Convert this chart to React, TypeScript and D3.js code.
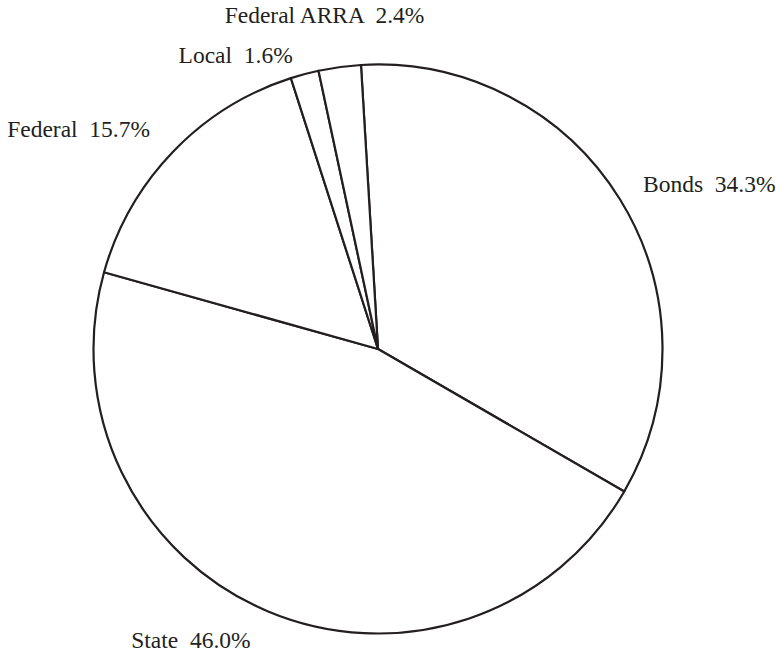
import React, { useEffect, useRef } from 'react';
import * as d3 from 'd3';

// slices in clockwise order, starting just left of 12 o'clock
const categories = ['Bonds', 'State', 'Federal', 'Local', 'Federal ARRA'];
const shares = [34.3, 46.0, 15.7, 1.6, 2.4];

// small nudges so the thin slices' labels don't collide
const labelNudge: Record<string, { dx: number; dy: number; anchor?: string }> = {
  'Local': { dx: -4, dy: 10 },
  'Federal ARRA': { dx: -11, dy: -22, anchor: 'middle' },
  'State': { dx: -5, dy: 0 },
  'Federal': { dx: -1, dy: -2 },
  'Bonds': { dx: -3, dy: 0 },
};

const PieChart: React.FC = () => {
  const svgRef = useRef<SVGSVGElement>(null);

  useEffect(() => {
    if (!svgRef.current) return;
    const svg = d3.select(svgRef.current);
    svg.selectAll('*').remove();

    const cx = 378;
    const cy = 349;
    const radius = 284.5;
    const start = (-3.43 * Math.PI) / 180;

    const data = categories.map((c, i) => ({ name: c, value: shares[i] }));

    const pie = d3.pie<{ name: string; value: number }>()
      .sort(null)
      .value(d => d.value)
      .startAngle(start)
      .endAngle(start + 2 * Math.PI);

    const arc = d3.arc<d3.PieArcDatum<{ name: string; value: number }>>()
      .innerRadius(0)
      .outerRadius(radius);

    const labelArc = d3.arc<d3.PieArcDatum<{ name: string; value: number }>>()
      .innerRadius(315)
      .outerRadius(315);

    const g = svg.append('g').attr('transform', `translate(${cx},${cy})`);
    const arcs = pie(data);

    g.selectAll('path')
      .data(arcs)
      .join('path')
      .attr('d', arc)
      .attr('fill', '#ffffff')
      .attr('stroke', '#231f20')
      .attr('stroke-width', 2.2)
      .attr('stroke-linejoin', 'round');

    g.selectAll('text')
      .data(arcs)
      .join('text')
      .each(function (d) {
        const [x, y] = labelArc.centroid(d);
        const mid = (d.startAngle + d.endAngle) / 2;
        const nudge = labelNudge[d.data.name] || { dx: 0, dy: 0 };
        const anchor = nudge.anchor || (Math.sin(mid) >= 0 ? 'start' : 'end');
        d3.select(this)
          .attr('x', x + nudge.dx)
          .attr('y', y + nudge.dy)
          .attr('dy', '0.35em')
          .attr('text-anchor', anchor);
      })
      .attr('font-family', 'Liberation Serif')
      .attr('font-size', 23.5)
      .attr('fill', '#231f20')
      .attr('xml:space', 'preserve')
      .style('white-space', 'pre')
      .text(d => `${d.data.name}  ${d.data.value.toFixed(1)}%`);
  }, []);

  return (
    <svg
      ref={svgRef}
      width={776}
      height={654}
      viewBox="0 0 776 654"
      style={{ position: 'absolute', left: 0, top: 0, background: '#fff' }}
    />
  );
};

export default function App() {
  return <PieChart />;
}
